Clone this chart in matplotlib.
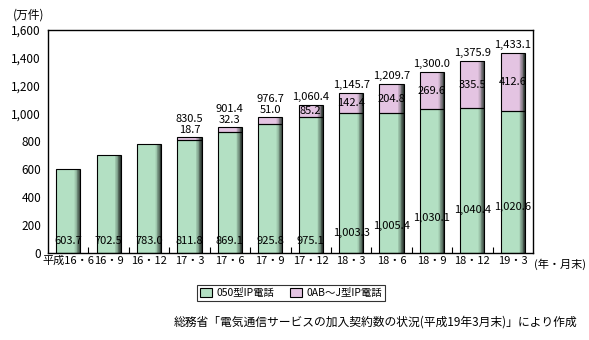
import matplotlib.pyplot as plt
import matplotlib.patches as mpatches
import numpy as np

plt.rcParams['font.family'] = ['Noto Sans CJK JP', 'DejaVu Sans']

# データ
periods = ['平成16・6', '16・9', '16・12', '17・3', '17・6', '17・9',
           '17・12', '18・3', '18・6', '18・9', '18・12', '19・3']
ip050 = [603.7, 702.5, 783.0, 811.8, 869.1, 925.8,
         975.1, 1003.3, 1005.4, 1030.1, 1040.4, 1020.6]
ip0abj = [0, 0, 0, 18.7, 32.3, 51.0, 85.2, 142.4, 204.8, 269.6, 335.5, 412.6]
totals = [None, None, None, 830.5, 901.4, 976.7, 1060.4, 1145.7,
          1209.7, 1300.0, 1375.9, 1433.1]

green = '#b3e0c3'
pink = '#e4c4e2'
dark = '#2f3a33'

fig = plt.figure(figsize=(5.89, 3.40), dpi=100)
ax = fig.add_axes([48/589, 1 - 253/340, 485/589, 223/340])

x = np.arange(len(periods))
w = 0.6

def shade_bar(xc, bottom, height, color):
    # 右側に立体風のグラデーション
    ax.bar(xc, height, w, bottom=bottom, color=color, edgecolor='none', zorder=2)
    c0 = np.array(plt.matplotlib.colors.to_rgb(color))
    c1 = np.array(plt.matplotlib.colors.to_rgb(dark))
    n = 8
    sw = w * 0.25 / n
    for i in range(n):
        t = ((i + 1) / n) ** 1.3
        col = c0 * (1 - t) + c1 * t
        xs = xc + w / 2 - w * 0.25 + i * sw
        ax.bar(xs, height, sw, bottom=bottom, align='edge', color=col,
               edgecolor='none', zorder=2)
    ax.bar(xc, height, w, bottom=bottom, color='none', edgecolor='black',
           linewidth=0.8, zorder=3)

for i in x:
    shade_bar(i, 0, ip050[i], green)
    if ip0abj[i] > 0:
        shade_bar(i, ip050[i], ip0abj[i], pink)

fs = 8
# 050型の値ラベル (下寄せ、後半は段差)
lab_y = [86, 86, 86, 86, 86, 86, 86, 143, 194, 251, 308, 330]
for i in x:
    ax.text(i, lab_y[i], f'{ip050[i]:,.1f}', ha='center', va='center',
            fontsize=fs, zorder=5)
    if ip0abj[i] > 0:
        top = ip050[i] + ip0abj[i]
        if ip0abj[i] < 70:
            ax.text(i, top + 50, f'{ip0abj[i]:.1f}', ha='center', va='center',
                    fontsize=fs, zorder=5)
            ax.text(i, top + 130, f'{totals[i]:,.1f}', ha='center',
                    va='center', fontsize=fs, zorder=5)
        else:
            ax.text(i, ip050[i] + ip0abj[i] / 2, f'{ip0abj[i]:.1f}',
                    ha='center', va='center', fontsize=fs, zorder=5)
            ax.text(i, top + 60, f'{totals[i]:,.1f}', ha='center',
                    va='center', fontsize=fs, zorder=5)

ax.set_xlim(-0.5, len(periods) - 0.5)
ax.set_ylim(0, 1600)
ax.set_yticks(range(0, 1601, 200))
ax.set_yticklabels([f'{v:,}' for v in range(0, 1601, 200)], fontsize=8.5)
ax.tick_params(axis='y', length=0, pad=5)
ax.set_xticks(x)
ax.set_xticklabels(periods, fontsize=fs)
ax.tick_params(axis='x', which='major', length=0, pad=2)
ax.set_xticks(np.arange(0.5, len(periods) - 0.5, 1), minor=True)
ax.tick_params(axis='x', which='minor', direction='in', length=4, width=0.8)
for s in ax.spines.values():
    s.set_linewidth(1.0)

fig.text(13/589, 1 - 15/340, '(万件)', fontsize=8.5, va='center')
fig.text(534/589, 1 - 264/340, '(年・月末)', fontsize=fs, va='center')

handles = [mpatches.Patch(facecolor=green, edgecolor='black', linewidth=0.8,
                          label='050型IP電話'),
           mpatches.Patch(facecolor=pink, edgecolor='black', linewidth=0.8,
                          label='0AB～J型IP電話')]
leg = fig.legend(handles=handles, loc='center', bbox_to_anchor=(291/589, 1 - 293/340),
                 ncol=2, fontsize=7.5, frameon=True, fancybox=False,
                 edgecolor='black', handlelength=1.2, handleheight=0.9,
                 columnspacing=1.5, borderpad=0.3, handletextpad=0.4)
leg.get_frame().set_linewidth(0.8)

fig.text(577/589, 1 - 322/340,
         '総務省「電気通信サービスの加入契約数の状況(平成19年3月末)」により作成',
         fontsize=8.5, ha='right', va='center')

plt.savefig('out.png', dpi=100)
